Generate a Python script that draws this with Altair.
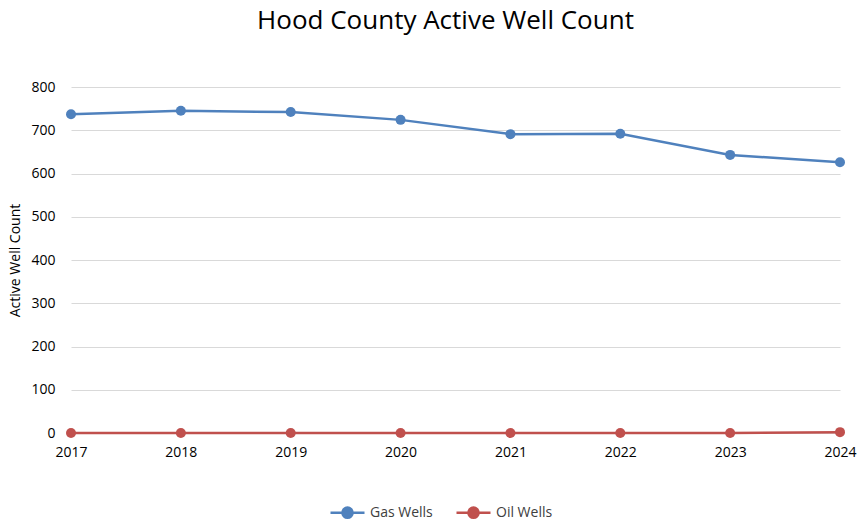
import altair as alt
import pandas as pd

years = ["2017", "2018", "2019", "2020", "2021", "2022", "2023", "2024"]
gas_wells = [737, 745, 742, 724, 691, 692, 643, 626]
oil_wells = [0, 0, 0, 0, 0, 0, 0, 2]

series_names = ["Gas Wells", "Oil Wells"]
series_colors = ["#4F81BD", "#C0504D"]

df = pd.concat([
    pd.DataFrame({"Year": years, "Count": gas_wells, "Series": "Gas Wells"}),
    pd.DataFrame({"Year": years, "Count": oil_wells, "Series": "Oil Wells"}),
])

FONT = "Open Sans"
# line with a dot in the middle, used as the legend key
legend_path = "M-1,0L1,0M-0.3,0A0.3,0.3,0,1,0,0.3,0A0.3,0.3,0,1,0,-0.3,0Z"

base = alt.Chart(df).encode(
    x=alt.X("Year:O", scale=alt.Scale(type="point", padding=0),
            axis=alt.Axis(title=None, labelAngle=0, ticks=False, domain=True,
                          domainColor="#D9D9D9", labelPadding=12, grid=False)),
    y=alt.Y("Count:Q", scale=alt.Scale(domain=[0, 800]),
            axis=alt.Axis(title="Active Well Count", values=list(range(0, 801, 100)),
                          domain=False, ticks=False, gridColor="#D9D9D9",
                          labelPadding=16, titlePadding=8)),
    color=alt.Color("Series:N", scale=alt.Scale(domain=series_names, range=series_colors),
                    legend=alt.Legend(title=None, orient="none", direction="horizontal",
                                      legendX=258, legendY=407,
                                      symbolType=legend_path, symbolSize=1156,
                                      symbolStrokeWidth=2.5, columnPadding=18,
                                      labelFontSize=14, labelFont=FONT, labelColor="#404040")),
)

lines = base.mark_line(strokeWidth=2.5)
points = base.mark_point(filled=True, size=100, opacity=1)

chart = (lines + points).properties(
    width=769,
    height=346,
    title=alt.Title("Hood County Active Well Count", fontSize=26, font=FONT,
                    fontWeight="normal", color="#000000", anchor="middle", offset=0),
    padding={"left": 71, "top": 87, "right": 18, "bottom": 89},
    autosize=alt.AutoSizeParams(type="none"),
).configure_view(stroke=None).configure_axis(
    labelFont=FONT, labelFontSize=14, labelColor="#000000",
    titleFont=FONT, titleFontSize=14, titleColor="#000000", titleFontWeight="normal",
).configure_title(dy=-46, dx=-10)

chart.save("out.html", embed_options={"renderer": "svg", "actions": False})
